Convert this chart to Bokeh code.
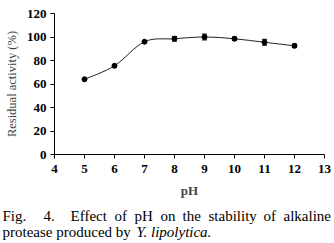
from bokeh.plotting import figure
from bokeh.models import Whisker, ColumnDataSource, FixedTicker
from bokeh.layouts import column
from bokeh.core.properties import value
from bokeh.embed import file_html
from bokeh.resources import INLINE
import numpy as np

ph = [5, 6, 7, 8, 9, 10, 11, 12]
activity = [64, 75.5, 96, 98.5, 100, 98.5, 95.5, 92.5]
err = [0.8, 0.8, 1.0, 2.0, 2.5, 1.5, 2.5, 1.5]
x_ticks = [4, 5, 6, 7, 8, 9, 10, 11, 12, 13]
y_ticks = [0, 20, 40, 60, 80, 100, 120]
caption_line1 = ["Fig.", "4.", "Effect", "of", "pH", "on", "the", "stability", "of", "alkaline"]
caption_line2 = "protease produced by"
caption_species = "Y. lipolytica."

SERIF = "Liberation Serif"
CHART_H = 200
CAP_H = 243 - CHART_H

p = figure(width=334, height=CHART_H, x_range=(4, 13), y_range=(0, 120),
           output_backend="svg", toolbar_location=None,
           min_border_left=54, min_border_right=10, min_border_top=13,
           min_border_bottom=CHART_H - 154)
p.outline_line_color = None
p.grid.visible = False
p.background_fill_color = "white"
p.border_fill_color = "white"

for ax in (p.xaxis[0], p.yaxis[0]):
    ax.axis_line_color = "black"
    ax.major_tick_line_color = "black"
    ax.minor_tick_line_color = None
    ax.major_tick_in = 0
    ax.major_tick_out = 4
    ax.major_label_text_font = SERIF
    ax.major_label_text_font_style = "bold"
    ax.major_label_text_font_size = "13px"
    ax.major_label_text_color = "black"
p.xaxis.ticker = FixedTicker(ticks=x_ticks)
p.yaxis.ticker = FixedTicker(ticks=y_ticks)
p.xaxis.major_label_standoff = 6
p.yaxis.major_label_standoff = 4

p.xaxis.axis_label = "pH"
p.xaxis.axis_label_text_font = SERIF
p.xaxis.axis_label_text_font_style = "bold"
p.xaxis.axis_label_text_font_size = "13px"
p.xaxis.axis_label_standoff = 7

p.yaxis.axis_label = "Residual activity (%)"
p.yaxis.axis_label_text_font = SERIF
p.yaxis.axis_label_text_font_style = "normal"
p.yaxis.axis_label_text_font_size = "12.5px"
p.yaxis.axis_label_standoff = 5

# smoothed line drawn with bezier segments (Catmull-Rom control points)
xs = np.array(ph, float)
ys = np.array(activity, float)
n = len(xs)
x0, y0, x1, y1, cx0, cy0, cx1, cy1 = [], [], [], [], [], [], [], []
for i in range(n - 1):
    xm = xs[i - 1] if i > 0 else xs[i]
    ym = ys[i - 1] if i > 0 else ys[i]
    xp = xs[i + 2] if i + 2 < n else xs[i + 1]
    yp = ys[i + 2] if i + 2 < n else ys[i + 1]
    t = 1 / 6
    x0.append(xs[i]); y0.append(ys[i])
    x1.append(xs[i + 1]); y1.append(ys[i + 1])
    cx0.append(xs[i] + (xs[i + 1] - xm) * t)
    cy0.append(ys[i] + (ys[i + 1] - ym) * t)
    cx1.append(xs[i + 1] - (xp - xs[i]) * t)
    cy1.append(ys[i + 1] - (yp - ys[i]) * t)
p.bezier(x0=x0, y0=y0, x1=x1, y1=y1, cx0=cx0, cy0=cy0, cx1=cx1, cy1=cy1,
         line_color="#222222", line_width=1)

src = ColumnDataSource(dict(x=ph, y=activity,
                            lo=[a - e for a, e in zip(activity, err)],
                            hi=[a + e for a, e in zip(activity, err)]))
w = Whisker(base="x", lower="lo", upper="hi", source=src,
            line_color="black", line_width=1)
w.upper_head.size = 5
w.lower_head.size = 5
w.upper_head.line_color = "black"
w.lower_head.line_color = "black"
p.add_layout(w)
p.scatter("x", "y", source=src, size=5, color="black", marker="circle")

# caption panel: data units equal pixels (y measured from the panel bottom)
c = figure(width=334, height=CAP_H, x_range=(0, 334), y_range=(0, CAP_H),
           output_backend="svg", toolbar_location=None,
           min_border=0, min_border_left=0, min_border_right=0,
           min_border_top=0, min_border_bottom=0, x_axis_type=None,
           y_axis_type=None)
c.grid.visible = False
c.outline_line_color = None
c.background_fill_color = "white"
c.border_fill_color = "white"

line1_x = [2, 43, 70, 114, 134, 160, 182, 208, 263, 283]
c.text(x=line1_x, y=[CAP_H - 15] * len(line1_x), text=caption_line1,
       text_font=value(SERIF), text_font_size="15px",
       text_baseline="alphabetic", text_color="black")
c.text(x=[2], y=[CAP_H - 31], text=[caption_line2],
       text_font=value(SERIF), text_font_size="15px",
       text_baseline="alphabetic", text_color="black")
c.text(x=[136], y=[CAP_H - 31], text=[caption_species],
       text_font=value(SERIF), text_font_size="15px", text_font_style="italic",
       text_baseline="alphabetic", text_color="black")

layout = column(p, column(c, spacing=0), spacing=0)
open("out.html", "w").write(file_html(layout, INLINE))
